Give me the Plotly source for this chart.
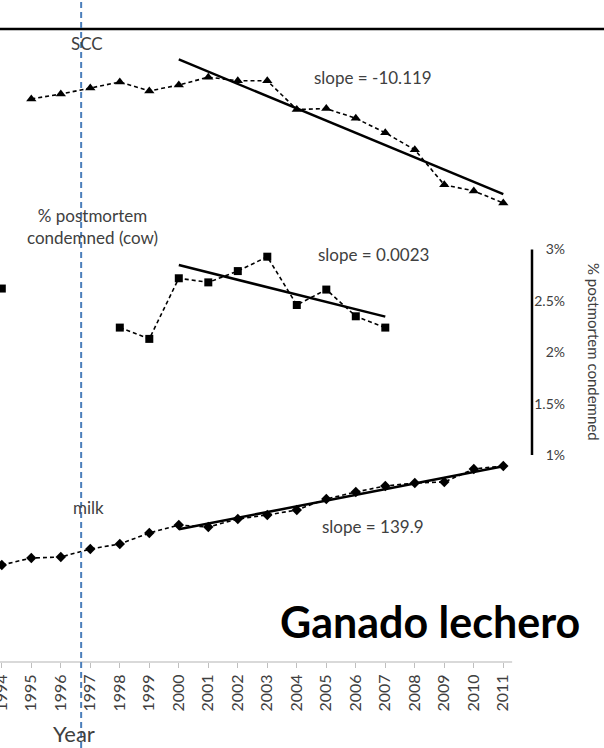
import numpy as np
import plotly.graph_objects as go

# ---- data -------------------------------------------------------------
years = list(range(1994, 2012))

# somatic cell count (x1000 cells/mL); no record for 1994
scc = [None, 286, 290, 295, 300, 292.6, 297.5, 304, 301, 301,
       277.3, 278, 270, 258, 244, 215, 210, 200]

# % of cows condemned at postmortem inspection, 1994-2007
pm_years = list(range(1994, 2008))
postmortem_pct = [2.62, None, None, None, 2.24, 2.13, 2.72, 2.68,
                  2.79, 2.93, 2.46, 2.61, 2.35, 2.24]

# milk yield (kg/cow/year)
milk = [7000, 7171, 7195, 7391, 7513, 7782, 7977, 7928, 8124, 8222,
        8344, 8612, 8783, 8930, 9003, 9028, 9345, 9419]

scc_slope = -10.119
milk_slope = 139.9
pm_slope_text = "0.0023"

trend_start = 2000
event_year = 1996.69

pm_ticks = [1, 1.5, 2, 2.5, 3]
pm_ticktext = ["1%", "1.5%", "2%", "2.5%", "3%"]

# ---- page geometry ----------------------------------------------------
W, H = 604, 748
AXIS_PX = 662            # vertical position of the year axis
X0_PX, PX_PER_YEAR = 1.8, 29.5
FONT = "Lato"
GREY = "#404040"


def paper(x, y):
    return x / W, 1 - y / H


def y_range(v_ref, px_ref, px_per_unit):
    top = v_ref + px_ref / px_per_unit
    bottom = v_ref - (AXIS_PX - px_ref) / px_per_unit
    return [bottom, top]


x_range = [1994 - X0_PX / PX_PER_YEAR, 1994 + (W - X0_PX) / PX_PER_YEAR]


def fixed_slope_line(xs, ys, slope, start, end=None):
    pts = [(x, y) for x, y in zip(xs, ys)
           if y is not None and x >= start and (end is None or x <= end)]
    px_ = np.array([p[0] for p in pts], float)
    py_ = np.array([p[1] for p in pts], float)
    b = py_.mean() - slope * px_.mean()
    xe = np.array([px_.min(), px_.max()])
    return xe, slope * xe + b


def fitted_line(xs, ys, start, end=None):
    pts = [(x, y) for x, y in zip(xs, ys)
           if y is not None and x >= start and (end is None or x <= end)]
    px_ = np.array([p[0] for p in pts], float)
    py_ = np.array([p[1] for p in pts], float)
    m, b = np.polyfit(px_, py_, 1)
    xe = np.array([px_.min(), px_.max()])
    return xe, m * xe + b


dash_line = dict(color="black", width=1.6, dash="4px,3px")

fig = go.Figure()

# SCC
fig.add_trace(go.Scatter(x=years, y=scc, mode="lines+markers", yaxis="y",
                         line=dash_line,
                         marker=dict(symbol="triangle-up", size=9, color="black"),
                         connectgaps=False, showlegend=False))
sx, sy = fixed_slope_line(years, scc, scc_slope, trend_start)
fig.add_trace(go.Scatter(x=sx, y=sy, mode="lines", yaxis="y",
                         line=dict(color="black", width=2.5), showlegend=False))

# postmortem condemnation
fig.add_trace(go.Scatter(x=pm_years, y=postmortem_pct, mode="lines+markers", yaxis="y2",
                         line=dash_line,
                         marker=dict(symbol="square", size=8, color="black"),
                         connectgaps=False, showlegend=False))
px2, py2 = fitted_line(pm_years, postmortem_pct, trend_start)
fig.add_trace(go.Scatter(x=px2, y=py2, mode="lines", yaxis="y2",
                         line=dict(color="black", width=2.5), showlegend=False))

# milk yield
fig.add_trace(go.Scatter(x=years, y=milk, mode="lines+markers", yaxis="y3",
                         line=dash_line,
                         marker=dict(symbol="diamond", size=8, color="black"),
                         showlegend=False))
mx, my = fixed_slope_line(years, milk, milk_slope, trend_start)
fig.add_trace(go.Scatter(x=mx, y=my, mode="lines", yaxis="y3",
                         line=dict(color="black", width=2.5), showlegend=False))

domain_y = [1 - AXIS_PX / H, 1]
hidden = dict(visible=False, showgrid=False, zeroline=False, fixedrange=True)

fig.update_layout(
    width=W, height=H,
    margin=dict(l=0, r=0, t=0, b=0, pad=0),
    paper_bgcolor="white", plot_bgcolor="white",
    font=dict(family=FONT, color=GREY),
    xaxis=dict(range=x_range, domain=[0, 1], anchor="y",
               tickmode="array", tickvals=years, ticktext=[str(y) for y in years],
               tickangle=-90, ticks="outside", ticklen=5, tickcolor="#bfbfbf",
               ticklabeloverflow="allow",
               tickfont=dict(family=FONT, size=16, color=GREY),
               showline=False, showgrid=False, zeroline=False, automargin=False),
    yaxis=dict(range=y_range(200, 203, 1.2101), domain=domain_y, **hidden),
    yaxis2=dict(range=y_range(3, 249.5, 102.75), domain=domain_y,
                overlaying="y", side="right", anchor="free", position=568 / W,
                tickmode="array", tickvals=pm_ticks, ticktext=pm_ticktext,
                ticklabelposition="inside", ticks="",
                tickfont=dict(family=FONT, size=14, color=GREY),
                showline=False, showgrid=False, zeroline=False, automargin=False),
    yaxis3=dict(range=y_range(7000, 565, 0.04094), domain=domain_y,
                overlaying="y", **hidden),
)

shapes = [
    # top rule
    dict(type="line", xref="paper", yref="paper", x0=0, x1=1,
         y0=paper(0, 29)[1], y1=paper(0, 29)[1], line=dict(color="black", width=2.5)),
    # year axis line
    dict(type="line", xref="x", yref="paper", x0=x_range[0], x1=2011.3,
         y0=domain_y[0], y1=domain_y[0], line=dict(color="#d9d9d9", width=2)),
    # right-hand scale bar for the condemnation series
    dict(type="line", xref="paper", yref="y2", x0=532 / W, x1=532 / W,
         y0=1, y1=3, line=dict(color="black", width=2.5)),
    # event marker
    dict(type="line", xref="x", yref="paper", x0=event_year, x1=event_year,
         y0=0, y1=1, line=dict(color="#4a7ebb", width=2, dash="6px,4px"), layer="above"),
]
fig.update_layout(shapes=shapes)


def label(text, x, y, size=17, color=GREY, bold=False, angle=0):
    ax, ay = paper(x, y)
    if bold:
        text = "<b>" + text + "</b>"
    fig.add_annotation(text=text, x=ax, y=ay, xref="paper", yref="paper",
                       showarrow=False, xanchor="center", yanchor="middle",
                       textangle=angle, font=dict(family=FONT, size=size, color=color))


label("SCC", 87, 43)
label(f"slope = {scc_slope}", 373, 78)
label("% postmortem<br>condemned (cow)", 92, 226)
label(f"slope = {pm_slope_text}", 373, 254)
label("milk", 88, 507)
label(f"slope = {milk_slope}", 373, 526)
label("% postmortem condemned", 594, 352, size=15, angle=90)
label("Year", 74, 733, size=22)
label("Ganado lechero", 430, 621, size=43, color="black", bold=True)

fig.write_html("out.html")
